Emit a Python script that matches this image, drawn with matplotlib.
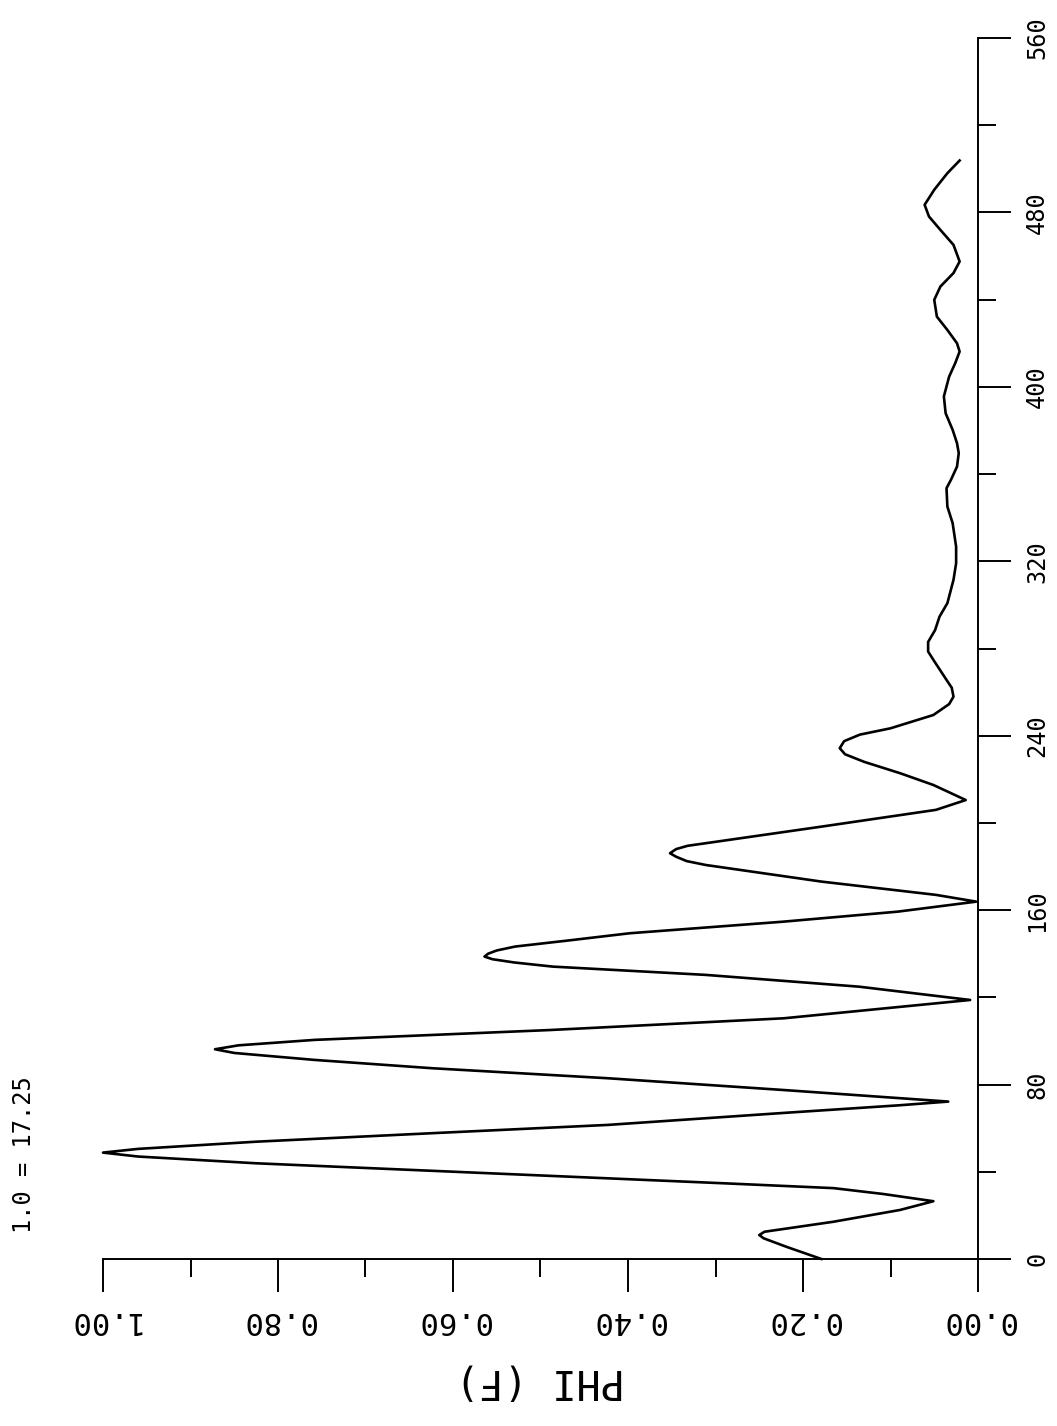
import matplotlib
matplotlib.use('Agg')
import matplotlib.pyplot as plt
from matplotlib.ticker import MultipleLocator, FormatStrFormatter

# values: F (vertical axis) and PHI(F) (horizontal axis)
f_vals = [0.0, 5.6, 9.5, 11.0, 12.5, 17.1, 22.5, 26.5, 29.8, 32.5, 34.7, 39.3, 43.9, 47.0, 48.8,
          50.5, 53.8, 57.7, 61.5, 67.0, 70.5, 72.2, 77.5, 82.9, 87.5, 91.3, 94.5, 96.2, 98.0,
          100.5, 105.0, 110.4, 118.8, 124.9, 130.3, 134.1, 136.0, 137.5, 138.7, 140.0, 141.5,
          143.3, 146.0, 149.4, 154.7, 159.3, 163.9, 167.0, 173.1, 180.7, 182.5, 184.5, 186.1,
          188.0, 189.5, 190.7, 198.3, 206.0, 210.5, 217.4, 222.8, 228.0, 231.5, 234.3, 237.5,
          240.5, 243.4, 249.5, 254.5, 257.9, 262.0, 265.6, 274.8, 278.6, 283.0, 288.5, 294.6,
          300.8, 311.5, 319.1, 326.7, 337.5, 345.1, 353.5, 357.3, 363.4, 369.6, 374.2, 380.3,
          387.9, 395.6, 404.7, 410.9, 416.2, 420.0, 426.1, 432.2, 439.9, 446.0, 452.2, 457.5,
          465.1, 472.0, 478.1, 483.5, 490.4, 498.0, 503.8]
phi_vals = [0.179, 0.219, 0.245, 0.250, 0.244, 0.165, 0.089, 0.051, 0.108, 0.165, 0.289, 0.557,
            0.825, 0.960, 1.000, 0.960, 0.825, 0.624, 0.423, 0.222, 0.090, 0.034, 0.222, 0.423,
            0.624, 0.758, 0.850, 0.872, 0.845, 0.758, 0.490, 0.222, 0.009, 0.136, 0.311, 0.486,
            0.530, 0.555, 0.564, 0.560, 0.550, 0.529, 0.470, 0.398, 0.223, 0.092, 0.002, 0.048,
            0.179, 0.311, 0.333, 0.345, 0.352, 0.345, 0.332, 0.311, 0.179, 0.048, 0.014, 0.051,
            0.089, 0.130, 0.152, 0.158, 0.153, 0.135, 0.100, 0.051, 0.033, 0.028, 0.030, 0.036,
            0.051, 0.057, 0.057, 0.049, 0.044, 0.035, 0.028, 0.025, 0.025, 0.029, 0.035, 0.036,
            0.031, 0.024, 0.022, 0.024, 0.029, 0.037, 0.039, 0.033, 0.026, 0.021, 0.024, 0.035,
            0.047, 0.050, 0.043, 0.028, 0.021, 0.028, 0.043, 0.056, 0.061, 0.050, 0.035, 0.021]

plt.rcParams['font.family'] = ['DejaVu Sans Mono']

fig = plt.figure(figsize=(10.57, 14.26), dpi=100)
ax = fig.add_axes([103 / 1057, (1426 - 1259) / 1426, 875 / 1057, 1221 / 1426])

ax.plot(phi_vals, f_vals, color='black', lw=1.9, clip_on=False)

ax.set_xlim(1.0, 0.0)
ax.set_ylim(0, 560)

for s in ['top', 'left']:
    ax.spines[s].set_visible(False)
for s in ['bottom', 'right']:
    ax.spines[s].set_linewidth(1.4)

ax.xaxis.set_major_locator(MultipleLocator(0.2))
ax.xaxis.set_minor_locator(MultipleLocator(0.1))
ax.xaxis.set_major_formatter(FormatStrFormatter('%.2f'))
ax.yaxis.set_major_locator(MultipleLocator(80))
ax.yaxis.set_minor_locator(MultipleLocator(40))

ax.yaxis.tick_right()
ax.tick_params(which='major', direction='out', length=24, width=1.4)
ax.tick_params(which='minor', direction='out', length=13, width=1.4)
ax.tick_params(axis='x', labelsize=22, pad=10, labelrotation=180)
ax.tick_params(axis='y', labelsize=17, pad=10, labelrotation=90)
for lab in ax.get_yticklabels():
    lab.set_va('center')

ax.set_xlabel('PHI (F)', fontsize=29, rotation=180, labelpad=18)

fig.text(0.023, (1426 - 1233) / 1426, '1.0 = 17.25', fontsize=17, rotation=90,
         ha='center', va='bottom')

plt.savefig('out.png', dpi=100)
